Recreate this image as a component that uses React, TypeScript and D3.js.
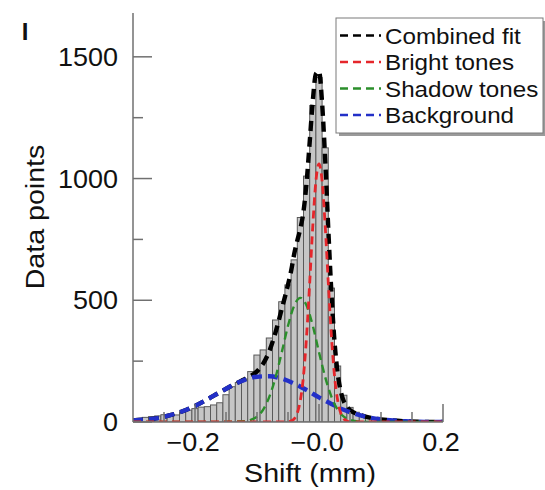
import React from "react";
import * as d3 from "d3";

// ---------- data ----------
const binCenters = [
  -0.30, -0.29, -0.28, -0.27, -0.26, -0.25, -0.24, -0.23, -0.22, -0.21,
  -0.20, -0.19, -0.18, -0.17, -0.16, -0.15, -0.14, -0.13, -0.12, -0.11,
  -0.10, -0.09, -0.08, -0.07, -0.06, -0.05, -0.04, -0.03, -0.02, -0.01,
  0.00, 0.01, 0.02, 0.03, 0.04, 0.05, 0.06, 0.07, 0.08, 0.09,
  0.10, 0.11, 0.12, 0.13, 0.14, 0.15, 0.16, 0.17, 0.18, 0.19, 0.20,
];
const binCounts = [
  12, 15, 19, 22, 25, 30, 24, 29, 42, 49,
  55, 61, 63, 70, 79, 112, 145, 162, 177, 207,
  275, 296, 345, 419, 494, 563, 666, 840, 1010, 1300,
  1415, 1126, 550, 230, 110, 60, 40, 28, 20, 15,
  12, 10, 8, 6, 5, 4, 4, 3, 3, 2, 2,
];
const binWidth = 0.01;

const backgroundX = [
  -0.30, -0.28, -0.26, -0.24, -0.22, -0.20, -0.18, -0.16, -0.14, -0.12,
  -0.10, -0.08, -0.06, -0.04, -0.02, 0.00, 0.02, 0.04, 0.06, 0.08,
  0.10, 0.12, 0.14, 0.16, 0.18, 0.20,
];
const backgroundY = [
  6, 10, 16, 28, 44, 66, 93, 122, 150, 173,
  186, 188, 178, 158, 131, 101, 74, 50, 32, 19,
  11, 6, 3, 1, 0, 0,
];

const shadowX = [
  -0.30, -0.20, -0.12, -0.11, -0.10, -0.09, -0.08, -0.07, -0.06, -0.05,
  -0.04, -0.03, -0.02, -0.01, 0.00, 0.01, 0.02, 0.03, 0.04, 0.05,
  0.06, 0.07, 0.08, 0.12, 0.20,
];
const shadowY = [
  0, 0, 3, 9, 22, 51, 104, 184, 287, 395,
  478, 510, 478, 395, 287, 184, 104, 51, 22, 9,
  3, 1, 0, 0, 0,
];

const brightX = [
  -0.30, -0.10, -0.06, -0.05, -0.045, -0.04, -0.035, -0.03, -0.025, -0.02,
  -0.015, -0.01, -0.005, 0.0, 0.005, 0.01, 0.015, 0.02, 0.025, 0.03,
  0.035, 0.04, 0.045, 0.05, 0.06, 0.10, 0.20,
];
const brightY = [
  0, 0, 0, 1, 4, 13, 37, 90, 190, 354,
  572, 806, 990, 1060, 990, 806, 572, 354, 190, 90,
  37, 13, 4, 1, 0, 0, 0,
];

const combinedX = [
  -0.30, -0.28, -0.26, -0.24, -0.22, -0.20, -0.18, -0.16, -0.14, -0.12,
  -0.10, -0.09, -0.08, -0.07, -0.06, -0.05,
  -0.045, -0.04, -0.035, -0.03, -0.025, -0.02, -0.015, -0.01, -0.005, 0.0,
  0.005, 0.01, 0.015, 0.02, 0.025, 0.03, 0.035, 0.04, 0.045,
  0.05, 0.06, 0.07, 0.08, 0.09, 0.10,
  0.12, 0.14, 0.16, 0.18, 0.20,
];
const combinedY = [
  6, 10, 16, 28, 44, 66, 93, 122, 150, 176,
  208, 240, 292, 369, 465, 564,
  620, 690, 745, 795, 865, 985, 1150, 1320, 1430, 1440,
  1310, 1077, 792, 532, 331, 202, 127, 85, 63,
  49, 35, 26, 19, 14, 11,
  6, 3, 1, 0, 0,
];

const xTickMajor = [-0.2, 0.0, 0.2];
const xTickLabels = ["\u22120.2", "\u22120.0", "0.2"];
const xTickMinor = [-0.25, -0.15, -0.1, -0.05, 0.05, 0.1, 0.15];
const yTickMajor = [0, 500, 1000, 1500];
const yTickLabels = ["0", "500", "1000", "1500"];
const yTickMinor = [250, 750, 1250];

const legendLabels = ["Combined fit", "Bright tones", "Shadow tones", "Background"];
const legendColors = ["#000000", "#e5262b", "#2b8f2b", "#2330c8"];

// ---------- helpers ----------
const FONT = "'Liberation Sans', Arial, Helvetica, sans-serif";

function SText(props: {
  x: number; y: number; size: number; anchor?: string; sx?: number; rotate?: number;
  weight?: string; children: React.ReactNode;
}) {
  const { x, y, size, anchor = "start", sx = 1.1, rotate = 0, weight = "normal" } = props;
  return (
    <text
      transform={`translate(${x},${y}) rotate(${rotate}) scale(${sx},1)`}
      textAnchor={anchor}
      fontFamily={FONT}
      fontSize={size}
      fontWeight={weight}
      fill="#111"
    >
      {props.children}
    </text>
  );
}

export default function App() {
  const W = 545, H = 490;
  const x = d3.scaleLinear().domain([-0.3, 0.2]).range([133, 443]);
  const y = d3.scaleLinear().domain([0, 1680]).range([422, 13]);
  const axisColor = "#707070";

  const mkLine = (xs: number[], ys: number[]) =>
    d3.line<number>()
      .x((_, i) => x(xs[i]))
      .y((d) => y(d))
      .curve(d3.curveMonotoneX)(ys) || "";

  // draw order: combined first, components on top (as in the reference)
  const curves = [
    { xs: combinedX, ys: combinedY, color: legendColors[0], w: 4.4, dash: "10,6" },
    { xs: backgroundX, ys: backgroundY, color: legendColors[3], w: 4.4, dash: "10,6" },
    { xs: shadowX, ys: shadowY, color: legendColors[2], w: 2.4, dash: "8,5" },
    { xs: brightX, ys: brightY, color: legendColors[1], w: 2.8, dash: "8,5" },
  ];

  const lgX = 336, lgY = 18, lgW = 207, lgH = 115;
  const rowBase = [43.5, 70, 96.5, 123];

  return (
    <svg
      width={W}
      height={H}
      style={{ position: "absolute", left: 0, top: 0, background: "#fff" }}
    >
      <defs>
        <clipPath id="plotClip">
          <rect x={133} y={0} width={310} height={422} />
        </clipPath>
      </defs>
      <rect x={0} y={0} width={W} height={H} fill="#fff" />

      {/* histogram */}
      <g clipPath="url(#plotClip)">
        {binCenters.map((c, i) => (
          <rect
            key={i}
            x={x(c - binWidth / 2)}
            y={y(binCounts[i])}
            width={x(c + binWidth / 2) - x(c - binWidth / 2)}
            height={y(0) - y(binCounts[i])}
            fill="#c6c6c6"
            stroke="#5a5a5a"
            strokeWidth={1}
          />
        ))}
      </g>

      {/* fit curves */}
      <g clipPath="url(#plotClip)">
        {curves.map((cv, i) => (
          <path
            key={i}
            d={mkLine(cv.xs, cv.ys)}
            fill="none"
            stroke={cv.color}
            strokeWidth={cv.w}
            strokeDasharray={cv.dash}
          />
        ))}
      </g>

      {/* axes */}
      <line x1={133} x2={133} y1={13} y2={422} stroke={axisColor} strokeWidth={1.5} />
      <line x1={133} x2={443} y1={422} y2={422} stroke={axisColor} strokeWidth={1.5} />
      {yTickMajor.map((t, i) => (
        <line key={"ym" + i} x1={133} x2={152} y1={y(t)} y2={y(t)} stroke={axisColor} strokeWidth={1.5} />
      ))}
      {yTickMinor.map((t, i) => (
        <line key={"yn" + i} x1={133} x2={143} y1={y(t)} y2={y(t)} stroke={axisColor} strokeWidth={1.5} />
      ))}
      {xTickMajor.map((t, i) => (
        <line key={"xm" + i} x1={x(t)} x2={x(t)} y1={422} y2={404} stroke={axisColor} strokeWidth={1.5} />
      ))}
      {xTickMinor.map((t, i) => (
        <line key={"xn" + i} x1={x(t)} x2={x(t)} y1={422} y2={412} stroke={axisColor} strokeWidth={1.5} />
      ))}

      {yTickMajor.map((t, i) => (
        <SText key={"yl" + i} x={118} y={y(t) + 9} size={25} anchor="end" sx={1.08}>
          {yTickLabels[i]}
        </SText>
      ))}
      {xTickMajor.map((t, i) => (
        <SText key={"xl" + i} x={x(t) - 2} y={451} size={25} anchor="middle" sx={1.08}>
          {xTickLabels[i]}
        </SText>
      ))}

      <SText x={310} y={482} size={26} anchor="middle" sx={1.1}>Shift (mm)</SText>
      <SText x={44} y={217} size={26} anchor="middle" sx={1.1} rotate={-90}>Data points</SText>

      <SText x={25} y={40} size={24} anchor="middle" sx={1} weight="bold">I</SText>

      {/* legend */}
      <rect x={lgX + 3} y={lgY + 3} width={lgW} height={lgH} fill="#9a9a9a" />
      <rect x={lgX} y={lgY} width={lgW} height={lgH} fill="#fff" stroke="#7a7a7a" strokeWidth={1} />
      {legendLabels.map((lab, i) => (
        <g key={"lg" + i}>
          <line
            x1={340}
            x2={381}
            y1={rowBase[i] - 8}
            y2={rowBase[i] - 8}
            stroke={legendColors[i]}
            strokeWidth={2.4}
            strokeDasharray="8,5"
          />
          <SText x={385} y={rowBase[i]} size={22} sx={1.1}>{lab}</SText>
        </g>
      ))}
    </svg>
  );
}
